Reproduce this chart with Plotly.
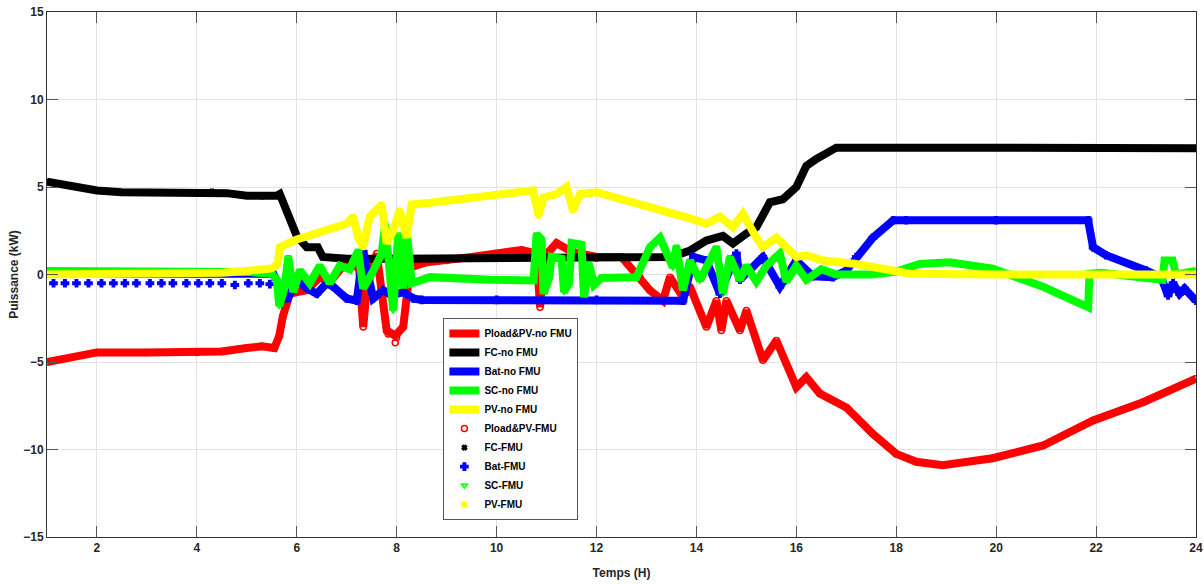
import plotly.graph_objects as go

# ---- data (hours, kW) ----
pload_no_fmu = [(1, -5.0), (2, -4.45), (3, -4.45), (4, -4.45), (4.5, -4.4), (5.0, -4.2), (5.3, -4.1), (5.55, -4.2),
                (5.65, -3.5), (5.72, -2.4), (5.86, -1.1), (6.0, -1.0), (6.2, -0.9), (6.46, -0.15), (6.66, -0.44),
                (6.93, 0.5), (7.13, 0.6), (7.25, 0.3), (7.33, -3.0), (7.4, -0.8), (7.6, 1.2), (7.8, -3.2),
                (7.97, -3.5), (8.13, -3.0), (8.27, 0.4), (8.6, 0.7), (9.0, 0.8), (9.5, 1.0), (10.0, 1.2),
                (10.5, 1.4), (10.8, 1.2), (10.87, -1.87), (10.95, 1.0), (11.2, 1.8), (11.5, 1.3), (12.0, 1.0),
                (12.5, 1.0), (12.87, -0.15), (13.07, -0.9), (13.33, -1.5), (13.47, -0.15), (13.73, -1.3),
                (13.87, -0.7), (14.2, -3.0), (14.4, -1.5), (14.5, -3.2), (14.6, -1.5), (14.87, -3.2), (15.0, -2.06),
                (15.33, -4.9), (15.6, -3.77), (15.8, -5.1), (16.0, -6.44), (16.2, -5.87), (16.47, -6.8),
                (17.0, -7.6), (17.53, -9.1), (18.0, -10.25), (18.4, -10.7), (18.93, -10.9), (19.93, -10.5),
                (20.94, -9.77), (21.94, -8.34), (22.94, -7.3), (24.0, -5.95)]

fc_no_fmu = [(1, 5.3), (1.5, 5.05), (2, 4.8), (2.5, 4.7), (3, 4.7), (3.5, 4.7), (4, 4.7), (4.3, 4.75), (4.6, 4.65),
             (5.0, 4.5), (5.3, 4.45), (5.6, 4.5), (5.66, 4.6), (5.8, 3.6), (6.0, 2.2), (6.2, 1.56), (6.42, 1.56),
             (6.52, 1.0), (7.0, 0.9), (8.0, 0.9), (9.0, 0.9), (10.0, 0.9), (11.0, 0.95), (12.0, 0.9), (13.0, 0.9),
             (13.5, 1.0), (13.87, 1.37), (14.2, 1.94), (14.53, 2.2), (14.73, 1.77), (15.0, 2.34), (15.2, 2.7),
             (15.47, 4.13), (15.73, 4.3), (16.0, 5.0), (16.2, 6.2), (16.4, 6.6), (16.8, 7.25), (18, 7.25),
             (20, 7.22), (22, 7.22), (24, 7.22)]

bat_no_fmu = [(1, 0.05), (3, 0.05), (5.53, 0.05), (5.8, -1.5), (6.0, -0.3), (6.2, -0.8), (6.4, -1.1), (6.6, -0.5),
              (6.73, -0.7), (7.0, -1.37), (7.2, -1.5), (7.33, 1.3), (7.53, -1.37), (7.73, -0.9), (7.9, -1.2),
              (8.13, -1.0), (8.33, -1.37), (8.5, -1.45), (10, -1.45), (12, -1.45), (13.67, -1.45), (13.73, -1.5),
              (13.94, 1.0), (14.2, 0.8), (14.47, -1.1), (14.8, 1.2), (14.87, -0.3), (15.33, 1.0), (15.67, -0.7),
              (16.0, 0.8), (16.33, -0.1), (16.73, -0.15), (17.0, 0.23), (17.2, 1.0), (17.53, 2.1), (17.94, 3.1),
              (18.2, 3.1), (20, 3.1), (21.84, 3.1), (21.94, 1.56), (22.2, 1.1), (23.0, 0.23), (23.3, -0.15),
              (23.44, -1.2), (23.54, -0.5), (23.67, -1.1), (23.77, -0.8), (24.0, -1.5)]

sc_no_fmu = [(1, 0.2), (2, 0.2), (3, 0.2), (4, 0.2), (5, 0.15), (5.5, 0.05), (5.6, -0.3), (5.65, -1.8), (5.75, -0.8),
             (5.83, 1.0), (5.93, -1.0), (6.06, 0.23), (6.26, -0.5), (6.46, 0.5), (6.66, -0.5), (6.86, 0.5),
             (7.06, 0.3), (7.23, 1.37), (7.33, -0.8), (7.53, 0.2), (7.7, 1.2), (7.77, 2.9), (7.93, -2.06),
             (8.03, 2.3), (8.13, -0.8), (8.2, 2.5), (8.3, -0.5), (8.67, -0.15), (9.3, -0.25), (9.87, -0.3),
             (10.74, -0.34), (10.8, 2.3), (10.9, 2.0), (10.94, -1.1), (11.05, -0.2), (11.1, 1.0), (11.3, 0.9),
             (11.35, -1.0), (11.45, -0.5), (11.5, 1.8), (11.7, 1.7), (11.75, -1.3), (11.85, 0.6), (11.95, -0.6),
             (12.1, -0.2), (12.4, -0.2), (12.8, -0.15), (13.07, 1.56), (13.27, 2.1), (13.53, 0.4), (13.6, 1.6),
             (13.73, -0.9), (13.87, 0.8), (14.07, -0.34), (14.4, 1.56), (14.53, -1.1), (14.67, 1.0),
             (14.87, -0.3), (15.0, 0.5), (15.2, -0.4), (15.4, 0.5), (15.67, 1.2), (15.8, -0.4), (16.0, 0.5),
             (16.2, -0.3), (16.5, 0.3), (16.8, 0.0), (17.5, 0.0), (18.0, 0.17), (18.47, 0.6), (19.07, 0.7),
             (19.93, 0.34), (20.94, -0.7), (21.84, -1.87), (21.87, 0.05), (22.1, 0.1), (23.14, -0.15),
             (23.33, -0.3), (23.37, 0.8), (23.53, 0.8), (23.6, 0.0), (24.0, 0.2)]

pv_no_fmu = [(1, 0.0), (2, 0.0), (3, 0.0), (4, 0.05), (4.5, 0.1), (5.0, 0.2), (5.5, 0.35), (5.62, 0.6), (5.66, 1.56),
             (6.0, 2.0), (6.5, 2.4), (7.0, 2.9), (7.13, 3.3), (7.23, 2.1), (7.33, 1.56), (7.46, 3.3), (7.7, 4.0),
             (7.8, 1.77), (7.93, 2.5), (8.06, 3.66), (8.2, 2.1), (8.3, 4.0), (8.67, 4.1), (9.3, 4.3), (9.87, 4.5),
             (10.33, 4.7), (10.73, 4.8), (10.84, 3.37), (10.94, 4.4), (11.2, 4.6), (11.4, 5.0), (11.53, 3.66),
             (11.67, 4.6), (12.0, 4.7), (12.67, 4.2), (13.34, 3.66), (13.8, 3.27), (14.2, 2.9), (14.47, 3.3),
             (14.73, 2.7), (14.93, 3.47), (15.2, 2.1), (15.33, 1.56), (15.6, 2.1), (16.0, 1.0), (16.2, 1.1),
             (16.54, 0.8), (17.2, 0.6), (17.6, 0.4), (18.0, 0.23), (18.27, 0.05), (20, 0.0), (22, 0.0), (24, 0.0)]

# FMU runs (markers) — mostly overlapping the no-FMU runs
pload_fmu = pload_no_fmu[:26] + [(7.83, -3.4), (8.0, -3.6), (7.97, -3.9)] + pload_no_fmu[26:]
fc_fmu = list(fc_no_fmu)
bat_fmu = [(1.13, -0.5), (1.36, -0.5), (1.59, -0.5), (1.83, -0.5), (2.09, -0.5), (2.33, -0.5), (2.56, -0.5),
           (2.79, -0.5), (3.06, -0.5), (3.29, -0.5), (3.52, -0.5), (3.79, -0.5), (4.03, -0.5), (4.26, -0.5),
           (4.5, -0.5), (4.76, -0.6), (5.03, -0.5), (5.26, -0.5), (5.46, -0.55)] + bat_no_fmu[3:]
sc_fmu = list(sc_no_fmu)
pv_fmu = list(pv_no_fmu)

line_series = [
    ("Pload&PV-no FMU", pload_no_fmu, "#ff0000"),
    ("FC-no FMU", fc_no_fmu, "#000000"),
    ("Bat-no FMU", bat_no_fmu, "#0000ff"),
    ("SC-no FMU", sc_no_fmu, "#00ff00"),
    ("PV-no FMU", pv_no_fmu, "#ffff00"),
]
marker_series = [
    ("Pload&PV-FMU", pload_fmu, "#ff0000", "circle-open", 6),
    ("FC-FMU", fc_fmu, "#000000", "x", 4),
    ("Bat-FMU", bat_fmu, "#0000ff", "cross", 6),
    ("SC-FMU", sc_fmu, "#00ff00", "triangle-down-open", 5),
    ("PV-FMU", pv_fmu, "#ffff00", "circle", 5),
]

fig = go.Figure()
# markers first (drawn underneath), ranked after lines in legend
for i, (name, pts, col, sym, sz) in enumerate(marker_series):
    fig.add_trace(go.Scatter(
        x=[p[0] for p in pts], y=[p[1] for p in pts], mode="markers", name=name,
        marker=dict(color=col, symbol=sym, size=sz, line=dict(color=col, width=1.5)),
        legendrank=10 + i))
for i, (name, pts, col) in enumerate(line_series):
    fig.add_trace(go.Scatter(
        x=[p[0] for p in pts], y=[p[1] for p in pts], mode="lines", name=name,
        line=dict(color=col, width=8), legendrank=1 + i))

tfont = dict(family="Liberation Sans", size=12, color="#262626", weight="bold")
axis_common = dict(showgrid=True, gridcolor="#e3e3e3", gridwidth=1, zeroline=False,
                   showline=True, linecolor="#333333", linewidth=1, mirror="ticks",
                   ticks="inside", ticklen=11, tickcolor="#555555", automargin=False,
                   tickfont=tfont)

fig.update_xaxes(range=[1, 24], tickvals=[2, 4, 6, 8, 10, 12, 14, 16, 18, 20, 22, 24],
                 title=dict(text="Temps (H)", standoff=14, font=tfont), **axis_common)
fig.update_yaxes(range=[-15, 15], tickvals=[-15, -10, -5, 0, 5, 10, 15],
                 title=dict(text="Puissance (kW)", standoff=2, font=tfont), **axis_common)

fig.update_layout(
    width=1204, height=584,
    margin=dict(l=47, r=8, t=12, b=47, autoexpand=False),
    plot_bgcolor="white", paper_bgcolor="white",
    font=dict(family="Liberation Sans", weight="bold"),
    legend=dict(x=0.345, y=0.417, xanchor="left", yanchor="top",
                bgcolor="white", bordercolor="#555555", borderwidth=1,
                font=dict(family="Liberation Sans", size=10, color="#000000", weight="bold"),
                tracegroupgap=0, itemwidth=30),
    showlegend=True,
)

fig.write_html("out.html", config={"displayModeBar": False},
               post_script="document.body.style.margin='0px';document.body.style.overflow='hidden';")
